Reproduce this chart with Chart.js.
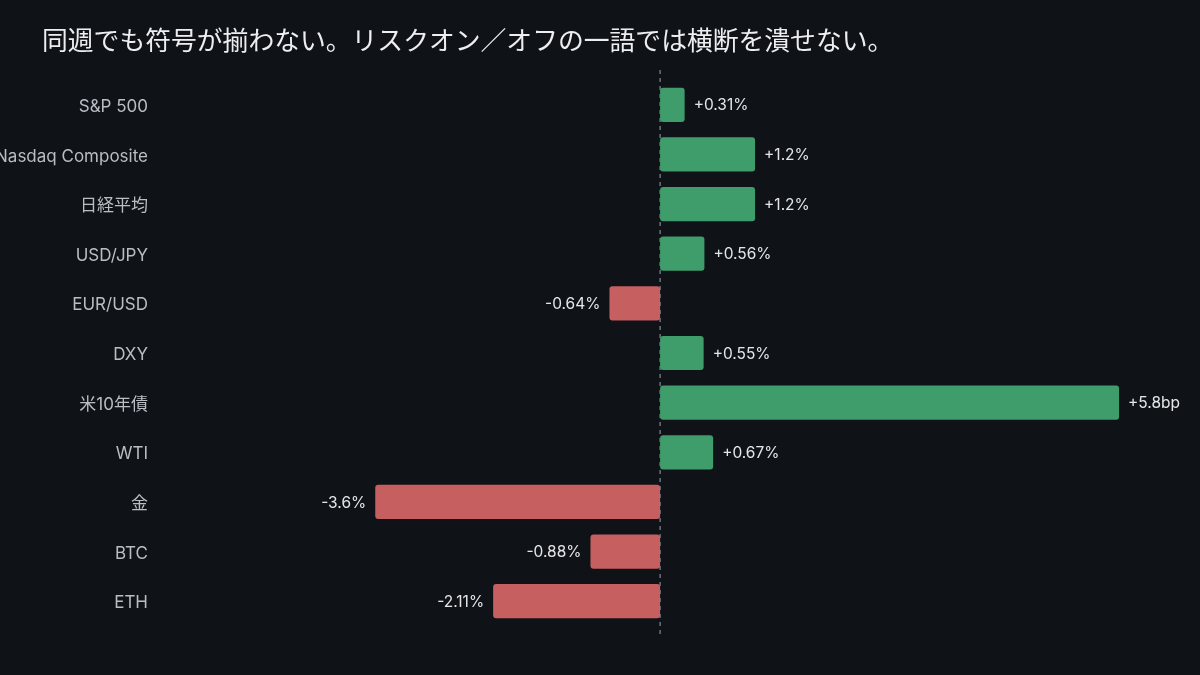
<!DOCTYPE html>
<html>
<head>
<meta charset="utf-8">
<script src="https://cdn.jsdelivr.net/npm/chart.js@4"></script>
<style>
  html, body { margin: 0; padding: 0; background: #0f1318; }
  #wrap { position: relative; width: 1200px; height: 675px; }
  #title {
    position: absolute; left: 42px; top: 20px; margin: 0;
    font-family: "Noto Sans CJK JP", "Noto Sans", sans-serif;
    font-size: 25.8px; font-weight: 400; color: #eceef0; white-space: nowrap;
  }
</style>
</head>
<body>
<div id="wrap">
  <h1 id="title">同週でも符号が揃わない。リスクオン／オフの一語では横断を潰せない。</h1>
  <canvas id="chart"></canvas>
</div>
<script>
var categories = ['S&P 500', 'Nasdaq Composite', '日経平均', 'USD/JPY', 'EUR/USD', 'DXY', '米10年債', 'WTI', '金', 'BTC', 'ETH'];
var changes = [0.31, 1.2, 1.2, 0.56, -0.64, 0.55, 5.8, 0.67, -3.6, -0.88, -2.11];
var changeLabels = ['+0.31%', '+1.2%', '+1.2%', '+0.56%', '-0.64%', '+0.55%', '+5.8bp', '+0.67%', '-3.6%', '-0.88%', '-2.11%'];

var green = '#3f9c6b';
var red = '#c65f60';
var font = 'Inter, "Noto Sans CJK JP", sans-serif';

// dashed zero line, a bit longer than the bars area
var zeroLine = {
  id: 'zeroLine',
  beforeDatasetsDraw: function (chart) {
    var ctx = chart.ctx;
    var x = chart.scales.x.getPixelForValue(0);
    var area = chart.chartArea;
    ctx.save();
    ctx.strokeStyle = '#6c737b';
    ctx.lineWidth = 1.5;
    ctx.setLineDash([4, 4]);
    ctx.beginPath();
    ctx.moveTo(x, area.top - 10);
    ctx.lineTo(x, area.bottom + 8);
    ctx.stroke();
    ctx.restore();
  }
};

// value text at the end of each bar
var barValues = {
  id: 'barValues',
  afterDatasetsDraw: function (chart) {
    var ctx = chart.ctx;
    var meta = chart.getDatasetMeta(0);
    ctx.save();
    ctx.font = '15.5px ' + font;
    ctx.fillStyle = '#e4e6e8';
    ctx.textBaseline = 'middle';
    meta.data.forEach(function (bar, i) {
      if (changes[i] >= 0) {
        ctx.textAlign = 'left';
        ctx.fillText(changeLabels[i], bar.x + 9, bar.y + 1);
      } else {
        ctx.textAlign = 'right';
        ctx.fillText(changeLabels[i], bar.x - 9, bar.y + 1);
      }
    });
    ctx.restore();
  }
};

new Chart(document.getElementById('chart'), {
  type: 'bar',
  data: {
    labels: categories,
    datasets: [{
      data: changes,
      backgroundColor: changes.map(function (v) { return v >= 0 ? green : red; }),
      borderRadius: 3,
      borderSkipped: false,
      categoryPercentage: 1,
      barPercentage: 0.69
    }]
  },
  options: {
    indexAxis: 'y',
    responsive: true,
    maintainAspectRatio: false,
    animation: false,
    layout: { padding: { top: 80, bottom: 49, left: 0, right: 20 } },
    scales: {
      x: {
        display: false,
        min: -6.32,
        max: 6.57
      },
      y: {
        grid: { display: false, drawTicks: false },
        border: { display: false },
        ticks: {
          color: '#b9bec4',
          padding: 12,
          labelOffset: 2,
          font: { family: font, size: 17 }
        },
        afterFit: function (scale) { scale.width = 160; }
      }
    },
    plugins: {
      legend: { display: false },
      tooltip: { enabled: false }
    }
  },
  plugins: [zeroLine, barValues]
});
</script>
</body>
</html>
